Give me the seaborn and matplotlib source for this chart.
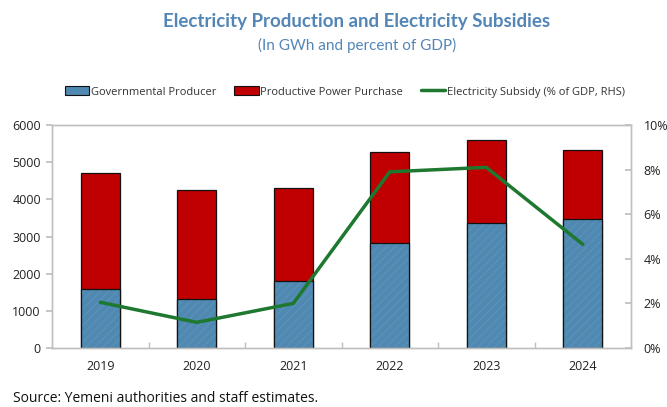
import numpy as np
import pandas as pd
import matplotlib
matplotlib.use("Agg")
import matplotlib.pyplot as plt
from matplotlib.patches import Patch
from matplotlib.lines import Line2D
from matplotlib.ticker import FuncFormatter
import seaborn as sns

# Data (GWh and % of GDP)
years = ["2019", "2020", "2021", "2022", "2023", "2024"]
governmental = [1600, 1310, 1800, 2830, 3350, 3470]
productive_purchase = [3100, 2940, 2500, 2450, 2250, 1850]
subsidy_pct = [2.05, 1.15, 2.0, 7.9, 8.1, 4.65]

df = pd.DataFrame({
    "year": years,
    "gov": governmental,
    "total": np.array(governmental) + np.array(productive_purchase),
    "subsidy": subsidy_pct,
})

sns.set_theme(style="white")
plt.rcParams["font.family"] = ["Open Sans", "DejaVu Sans"]

BLUE = "#4F88B0"
HATCH_BLUE = "#5A90B9"
RED = "#C00000"
GREEN = "#1E7830"
GRID = "#BFBFBF"
TITLE_BLUE = "#5386B6"

fig = plt.figure(figsize=(6.67, 4.07), dpi=100)
ax = fig.add_axes([52 / 667, 1 - 348 / 407, (631 - 52) / 667, (348 - 125) / 407])

# Stacked bars: total (red) underneath, governmental (blue) on top
sns.barplot(data=df, x="year", y="total", color=RED, width=0.4,
            edgecolor="#111111", linewidth=0.9, saturation=1, ax=ax)
sns.barplot(data=df, x="year", y="gov", color=BLUE, width=0.4,
            edgecolor=HATCH_BLUE, linewidth=0, hatch="////", saturation=1, ax=ax)
sns.barplot(data=df, x="year", y="gov", color=BLUE, fill=False, width=0.4,
            edgecolor="#111111", linewidth=0.9, saturation=1, ax=ax)

ax.set_xlim(-0.5, 5.5)
ax.set_ylim(0, 6000)
ax.set_yticks(range(0, 6001, 1000))
ax.set_xlabel("")
ax.set_ylabel("")
ax.tick_params(axis="y", which="major", direction="out", length=4, color=GRID,
               labelsize=9, labelcolor="#222222", pad=4, left=True)
ax.tick_params(axis="x", which="major", length=0, labelsize=9,
               labelcolor="#222222", pad=9)
ax.set_xticks(np.arange(0.5, 5.5, 1), minor=True)
ax.tick_params(axis="x", which="minor", direction="in", length=4, color=GRID,
               bottom=True)
for s in ax.spines.values():
    s.set_color(GRID)
    s.set_linewidth(1.0)

# Subsidy line on the right-hand axis
ax2 = ax.twinx()
sns.lineplot(x=np.arange(len(years)), y=df["subsidy"], color=GREEN,
             linewidth=2.5, ax=ax2)
ax2.set_ylim(0, 10)
ax2.set_yticks(range(0, 11, 2))
ax2.yaxis.set_major_formatter(FuncFormatter(lambda v, _: f"{v:.0f}%"))
ax2.set_ylabel("")
ax2.tick_params(axis="y", direction="in", length=4, color=GRID, labelsize=9,
                labelcolor="#222222", pad=9, right=True)
for s in ax2.spines.values():
    s.set_color(GRID)
    s.set_linewidth(1.0)

# Titles
fig.text(357 / 667, 1 - 22 / 407, "Electricity Production and Electricity Subsidies",
         ha="center", va="center", fontsize=13.5, fontweight="bold",
         color=TITLE_BLUE, family=["Lato", "DejaVu Sans"])
fig.text(357 / 667, 1 - 45 / 407, "(In GWh and percent of GDP)",
         ha="center", va="center", fontsize=11, color=TITLE_BLUE,
         family=["Lato", "DejaVu Sans"])

# Legend
handles = [
    Patch(facecolor=BLUE, edgecolor="#111111", linewidth=0.8),
    Patch(facecolor=RED, edgecolor="#111111", linewidth=0.8),
    Line2D([0], [0], color=GREEN, linewidth=2.5),
]
labels = ["Governmental Producer", "Productive Power Purchase",
          "Electricity Subsidy (% of GDP, RHS)"]
fig.legend(handles, labels, loc="center", bbox_to_anchor=(345 / 667, 1 - 92 / 407),
           ncol=3, frameon=False, fontsize=8, handlelength=2.2, handleheight=0.8,
           handletextpad=0.15, columnspacing=1.6, labelcolor="#333333")

fig.text(13 / 667, 1 - 399 / 407, "Source: Yemeni authorities and staff estimates.",
         ha="left", va="center", fontsize=10, color="#111111")

fig.savefig("out.png", dpi=100)
